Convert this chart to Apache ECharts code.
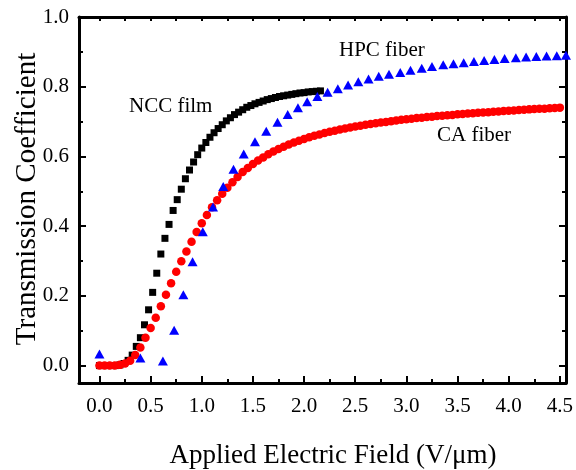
<!DOCTYPE html>
<html><head><meta charset="utf-8">
<script src="https://cdn.jsdelivr.net/npm/echarts@6/dist/echarts.min.js"></script>
<style>html,body{margin:0;padding:0;background:#fff}#c{width:576px;height:470px}</style>
</head><body><div id="c"></div>
<script>
// NCC film (black squares)
const nccX = [0.00,0.04,0.08,0.12,0.16,0.20,0.24,0.28,0.32,0.36,0.40,0.44,0.48,0.52,0.56,0.60,0.64,0.68,0.72,0.76,0.80,0.84,0.88,0.92,0.96,1.00,1.04,1.08,1.12,1.16,1.20,1.24,1.28,1.32,1.36,1.40,1.44,1.48,1.52,1.56,1.60,1.64,1.68,1.72,1.76,1.80,1.84,1.88,1.92,1.96,2.00,2.04,2.08,2.12,2.16];
const nccY = [0.000,0.000,0.000,0.000,0.000,0.002,0.006,0.015,0.030,0.055,0.080,0.117,0.160,0.210,0.265,0.320,0.365,0.405,0.445,0.476,0.506,0.536,0.561,0.584,0.605,0.624,0.640,0.655,0.668,0.680,0.691,0.702,0.711,0.720,0.727,0.734,0.741,0.746,0.751,0.755,0.759,0.763,0.766,0.769,0.772,0.774,0.776,0.778,0.780,0.782,0.783,0.785,0.786,0.787,0.788];
// CA fiber (red circles)
const caX = [0.00,0.05,0.10,0.15,0.20,0.25,0.30,0.35,0.40,0.45,0.50,0.55,0.60,0.65,0.70,0.75,0.80,0.85,0.90,0.95,1.00,1.05,1.10,1.15,1.20,1.25,1.30,1.35,1.40,1.45,1.50,1.55,1.60,1.65,1.70,1.75,1.80,1.85,1.90,1.95,2.00,2.05,2.10,2.15,2.20,2.25,2.30,2.35,2.40,2.45,2.50,2.55,2.60,2.65,2.70,2.75,2.80,2.85,2.90,2.95,3.00,3.05,3.10,3.15,3.20,3.25,3.30,3.35,3.40,3.45,3.50,3.55,3.60,3.65,3.70,3.75,3.80,3.85,3.90,3.95,4.00,4.05,4.10,4.15,4.20,4.25,4.30,4.35,4.40,4.45,4.50];
const caY = [0.000,0.000,0.000,0.000,0.002,0.006,0.014,0.030,0.052,0.080,0.108,0.137,0.170,0.203,0.236,0.269,0.299,0.327,0.355,0.383,0.408,0.432,0.454,0.474,0.493,0.510,0.526,0.541,0.555,0.567,0.578,0.588,0.597,0.606,0.614,0.621,0.628,0.634,0.640,0.645,0.650,0.655,0.659,0.663,0.667,0.671,0.674,0.677,0.680,0.683,0.686,0.688,0.691,0.693,0.695,0.697,0.699,0.701,0.703,0.705,0.707,0.708,0.710,0.711,0.713,0.714,0.716,0.717,0.718,0.719,0.721,0.722,0.723,0.724,0.725,0.726,0.727,0.728,0.729,0.730,0.731,0.732,0.733,0.734,0.735,0.736,0.737,0.737,0.738,0.739,0.740];
// HPC fiber (blue triangles)
const hpcX = [0.00,0.40,0.62,0.73,0.82,0.91,1.01,1.11,1.21,1.31,1.41,1.52,1.63,1.74,1.84,1.94,2.03,2.13,2.23,2.33,2.43,2.53,2.63,2.73,2.83,2.94,3.04,3.15,3.25,3.36,3.46,3.56,3.66,3.76,3.86,3.96,4.07,4.17,4.27,4.37,4.47,4.56];
const hpcY = [0.033,0.022,0.013,0.101,0.203,0.298,0.384,0.455,0.514,0.563,0.607,0.642,0.672,0.698,0.720,0.740,0.757,0.772,0.784,0.794,0.805,0.814,0.822,0.830,0.836,0.841,0.847,0.853,0.858,0.863,0.866,0.869,0.872,0.875,0.878,0.881,0.883,0.885,0.887,0.888,0.889,0.890];
// ticks
const xMajorTicks = [0,0.5,1,1.5,2,2.5,3,3.5,4,4.5];
const xMinorTicks = [0.25,0.75,1.25,1.75,2.25,2.75,3.25,3.75,4.25];
const yMajorTicks = [0,0.2,0.4,0.6,0.8,1.0];
const yMinorTicks = [0.1,0.3,0.5,0.7,0.9];
const xTitle = 'Applied Electric Field (V/μm)';
const yTitle = 'Transmission Coefficient';
const seriesNames = ['NCC film','CA fiber','HPC fiber'];

const FONT = '"Liberation Serif","Times New Roman",serif';
const xMin = -0.2, xMax = 4.56, yMin = -0.05, yMax = 1.0;
const zip = (a,b) => a.map((v,i)=>[v,b[i]]);
const lineS = {show:true, onZero:false, lineStyle:{color:'#000', width:3}};
const tickS = (vals,len) => ({show:true, inside:true, length:len, customValues:vals, lineStyle:{color:'#000', width:2}});
const noLabel = {show:false};

const chart = echarts.init(document.getElementById('c'), null, {renderer:'canvas'});
chart.setOption({
  animation:false,
  backgroundColor:'#fff',
  grid:{left:79, right:10, top:17, bottom:87, containLabel:false, outerBoundsMode:'none'},
  xAxis:[
    {type:'value', position:'bottom', min:xMin, max:xMax, axisLine:lineS, axisTick:tickS(xMajorTicks,7),
     axisLabel:{customValues:xMajorTicks, formatter:v=>v.toFixed(1), fontSize:21, color:'#000', fontFamily:FONT, margin:13},
     splitLine:{show:false}},
    {type:'value', position:'bottom', min:xMin, max:xMax, axisLine:{show:false, onZero:false}, axisTick:tickS(xMinorTicks,4), axisLabel:noLabel, splitLine:{show:false}},
    {type:'value', position:'top', min:xMin, max:xMax, axisLine:lineS, axisTick:tickS(xMajorTicks.concat(xMinorTicks),4), axisLabel:noLabel, splitLine:{show:false}}
  ],
  yAxis:[
    {type:'value', position:'left', min:yMin, max:yMax, axisLine:lineS, axisTick:tickS(yMajorTicks,7),
     axisLabel:{customValues:yMajorTicks, formatter:v=>v.toFixed(1), fontSize:21, color:'#000', fontFamily:FONT, margin:10},
     splitLine:{show:false}},
    {type:'value', position:'left', min:yMin, max:yMax, axisLine:{show:false, onZero:false}, axisTick:tickS(yMinorTicks,4), axisLabel:noLabel, splitLine:{show:false}},
    {type:'value', position:'right', min:yMin, max:yMax, axisLine:lineS, axisTick:tickS(yMajorTicks,7), axisLabel:noLabel, splitLine:{show:false}},
    {type:'value', position:'right', min:yMin, max:yMax, axisLine:{show:false, onZero:false}, axisTick:tickS(yMinorTicks,4), axisLabel:noLabel, splitLine:{show:false}}
  ],
  series:[
    {name:seriesNames[0], type:'scatter', symbol:'rect', symbolSize:7, itemStyle:{color:'#000', opacity:1}, data:zip(nccX,nccY), z:2},
    {name:seriesNames[1], type:'scatter', symbol:'circle', symbolSize:8.5, itemStyle:{color:'#ff0000', opacity:1}, data:zip(caX,caY), z:3},
    {name:seriesNames[2], type:'scatter', symbol:'triangle', symbolSize:[10,9], itemStyle:{color:'#0000ff', opacity:1}, data:zip(hpcX,hpcY), z:4, clip:true}
  ],
  graphic:[
    {type:'text', x:333, y:456, style:{text:xTitle, font:'27px '+FONT, fill:'#000', align:'center', verticalAlign:'middle'}},
    {type:'text', x:27, y:199, rotation:Math.PI/2, style:{text:yTitle, font:'29px '+FONT, fill:'#000', align:'center', verticalAlign:'middle'}},
    {type:'text', left:129, top:96, style:{text:seriesNames[0], font:'21px '+FONT, fill:'#000'}},
    {type:'text', left:339, top:40, style:{text:seriesNames[2], font:'21px '+FONT, fill:'#000'}},
    {type:'text', left:437, top:125, style:{text:seriesNames[1], font:'21px '+FONT, fill:'#000'}}
  ]
});
</script></body></html>
